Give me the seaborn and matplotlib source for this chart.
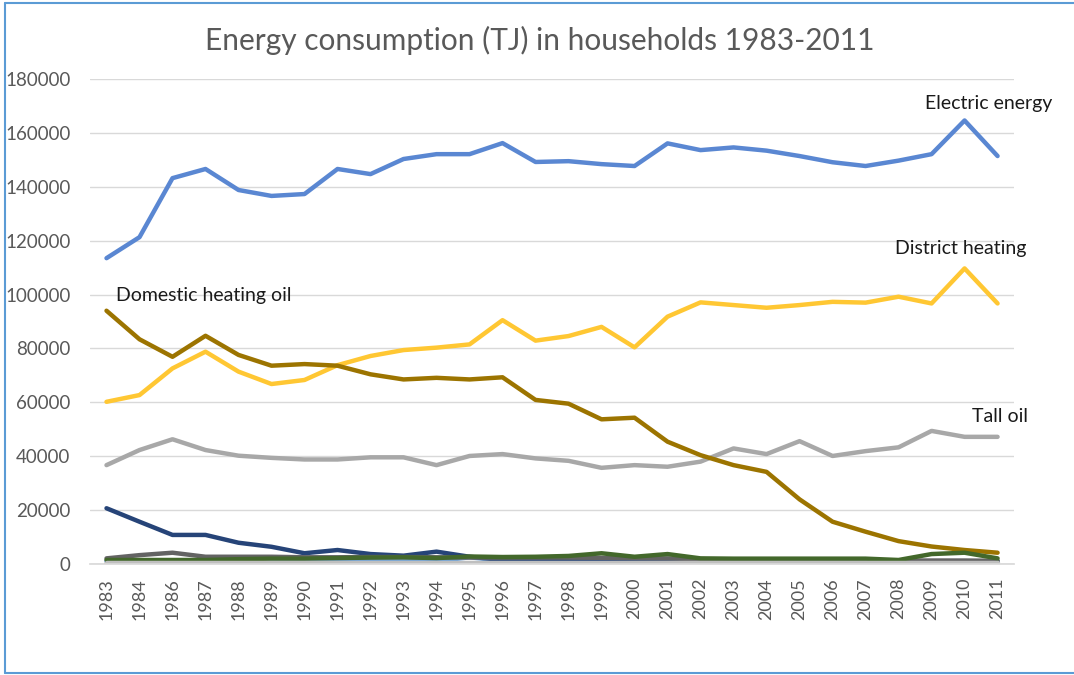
import numpy as np
import pandas as pd
import matplotlib.pyplot as plt
import seaborn as sns
from matplotlib.lines import Line2D

sns.set_theme(style="white")
plt.rcParams["font.family"] = ["Lato", "DejaVu Sans"]

years = ["1983", "1984", "1986", "1987", "1988", "1989", "1990", "1991", "1992", "1993",
         "1994", "1995", "1996", "1997", "1998", "1999", "2000", "2001", "2002", "2003",
         "2004", "2005", "2006", "2007", "2008", "2009", "2010", "2011"]

electric_energy = [113500, 121300, 143200, 146600, 138800, 136600, 137300, 146600, 144700, 150300,
                   152100, 152100, 156200, 149200, 149500, 148400, 147700, 156100, 153600, 154600,
                   153400, 151400, 149100, 147700, 149700, 152100, 164600, 151400]
orange_series = [0, 0, 0, 0, 0, 0, 0, 0, 0, 0,
                 300, 0, 0, 0, 0, 0, 0, 0, 0, 0,
                 0, 0, 0, 0, 0, 0, 0, 0]
tall_oil = [36700, 42300, 46300, 42300, 40200, 39400, 38800, 38800, 39600, 39600,
            36700, 40100, 40800, 39200, 38300, 35700, 36700, 36100, 38000, 42900,
            40800, 45600, 40100, 41900, 43300, 49400, 47200, 47200]
district_heating = [60200, 62700, 72600, 78800, 71400, 66800, 68300, 73800, 77200, 79400,
                    80300, 81500, 90500, 82900, 84600, 88000, 80400, 91800, 97100, 96100,
                    95100, 96100, 97300, 97000, 99200, 96700, 109700, 96700]
light_blue_series = [1000, 1000, 1000, 1000, 1000, 1000, 1000, 1000, 1000, 1000,
                     1000, 2500, 1200, 1000, 2000, 1000, 1000, 1000, 1000, 1000,
                     1000, 1000, 1000, 1000, 1000, 1000, 1000, 1000]
dark_blue_series = [20700, 15700, 10800, 10800, 7900, 6400, 4000, 5200, 3700, 3100,
                    4600, 2700, 1500, 1200, 1000, 1000, 1000, 1000, 1000, 1000,
                    1000, 1000, 1000, 1000, 1000, 1000, 1000, 1000]
dark_gray_series = [2100, 3300, 4200, 2700, 2700, 2700, 2500, 2500, 2600, 2600,
                    2500, 2400, 2400, 2400, 2400, 2300, 2200, 2100, 1800, 1700,
                    1600, 1500, 1500, 1400, 1300, 1300, 1300, 1200]
domestic_heating_oil = [94000, 83400, 76900, 84700, 77600, 73600, 74200, 73600, 70400, 68500,
                        69100, 68500, 69300, 60900, 59500, 53700, 54300, 45400, 40400, 36700,
                        34200, 24000, 15700, 12000, 8500, 6500, 5200, 4200]
dark_green_series = [1500, 1500, 1500, 1500, 1800, 2000, 2000, 2200, 2400, 2500,
                     2200, 2800, 2600, 2700, 3000, 4000, 2700, 3700, 2100, 2000,
                     2000, 2000, 2000, 2000, 1500, 3700, 4200, 2100]
light_gray_series = [300] * 28

series = {
    "Electric energy": electric_energy,
    "Series 2": orange_series,
    "Tall oil": tall_oil,
    "District heating": district_heating,
    "Series 5": light_blue_series,
    "Series 7": dark_blue_series,
    "Series 9": dark_gray_series,
    "Domestic heating oil": domestic_heating_oil,
    "Series 12": dark_green_series,
    "Series 13": light_gray_series,
}
colors = {
    "Electric energy": "#5A87D2",
    "Series 2": "#ED7D31",
    "Tall oil": "#A8A8A8",
    "District heating": "#FFC733",
    "Series 5": "#6FA3DA",
    "Series 7": "#264478",
    "Series 9": "#636363",
    "Domestic heating oil": "#9C7400",
    "Series 12": "#43682B",
    "Series 13": "#BFBFBF",
}

rows = []
for name, vals in series.items():
    for i, v in enumerate(vals):
        rows.append({"series": name, "idx": i, "value": v})
df = pd.DataFrame(rows)

fig = plt.figure(figsize=(10.74, 6.75), dpi=100)
ax = fig.add_axes([0.0838, 0.1644, 0.8604, 0.7186])

sns.lineplot(data=df, x="idx", y="value", hue="series", palette=colors,
             hue_order=list(series.keys()), linewidth=3.2, legend=False,
             sort=False, ax=ax)

ax.set_xlim(-0.5, len(years) - 0.5)
ax.set_ylim(0, 180000)
ax.set_yticks(np.arange(0, 180001, 20000))
ax.set_yticklabels([str(v) for v in range(0, 180001, 20000)], fontsize=13.5, color="#595959")
ax.set_xticks(range(len(years)))
ax.set_xticklabels(years, rotation=90, fontsize=13, color="#595959")
ax.tick_params(axis="y", length=0, pad=14)
ax.tick_params(axis="x", length=0, pad=10)
ax.grid(axis="y", color="#D9D9D9", linewidth=1)
ax.set_axisbelow(True)
for side in ["top", "right", "left"]:
    ax.spines[side].set_visible(False)
ax.spines["bottom"].set_color("#D9D9D9")
ax.set_xlabel("")
ax.set_ylabel("")

# data labels
lbl = dict(fontsize=14, color="#1a1a1a", textcoords="offset points", va="center")
ax.annotate("Electric energy", xy=(26, electric_energy[26]), xytext=(17, 12), ha="center", **lbl)
ax.annotate("District heating", xy=(26, district_heating[26]), xytext=(-3, 14), ha="center", **lbl)
ax.annotate("Domestic heating oil", xy=(0, domestic_heating_oil[0]), xytext=(7, 11), ha="left", **lbl)
ax.annotate("Tall oil", xy=(27, tall_oil[27]), xytext=(1.5, 15), ha="center", **lbl)

fig.text(0.503, 0.94, "Energy consumption (TJ) in households 1983-2011",
         ha="center", va="center", fontsize=21.5, color="#595959")

# chart frame (left, top, bottom edges visible)
frame_kw = dict(transform=fig.transFigure, color="#5B9BD5", linewidth=1.5)
fig.lines.append(Line2D([0.005, 0.005], [0.003, 0.996], **frame_kw))
fig.lines.append(Line2D([0.005, 1.0], [0.996, 0.996], **frame_kw))
fig.lines.append(Line2D([0.005, 1.0], [0.003, 0.003], **frame_kw))

fig.savefig("out.png", dpi=100)
